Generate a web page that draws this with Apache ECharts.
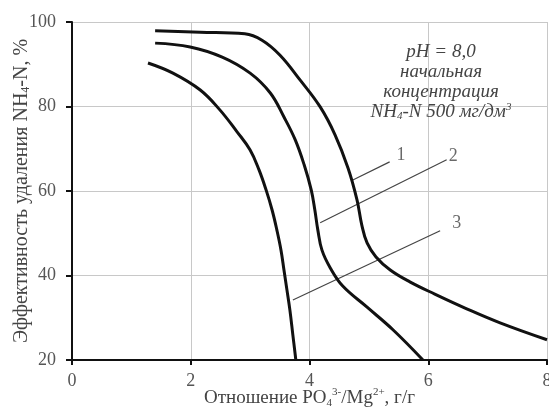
<!DOCTYPE html>
<html><head><meta charset="utf-8">
<script src="https://cdn.jsdelivr.net/npm/echarts@6/dist/echarts.min.js"></script>
<style>html,body{margin:0;padding:0;background:#fff}#c{width:549px;height:415px}</style>
</head><body><div id="c"></div>
<script>
// Curve 1 (outer)
const curve1X = [1.40, 2.16, 2.91, 3.20, 3.50, 3.84, 4.18, 4.43, 4.65, 4.80, 4.88, 4.97, 5.12, 5.36, 5.69, 6.11, 6.62, 7.21, 8.0];
const curve1Y = [97.9, 97.6, 97.2, 95.7, 92.2, 86.3, 79.9, 73.3, 65.4, 57.9, 52.0, 47.7, 44.4, 41.3, 38.5, 35.6, 32.3, 28.8, 24.8];
// Curve 2 (middle)
const curve2X = [1.40, 1.99, 2.53, 3.00, 3.34, 3.57, 3.76, 3.91, 4.03, 4.09, 4.14, 4.21, 4.35, 4.56, 4.97, 5.41, 5.91];
const curve2Y = [95.0, 94.1, 91.7, 87.9, 83.2, 77.5, 72.1, 66.2, 60.2, 55.5, 50.8, 46.0, 41.8, 37.5, 32.5, 27.1, 20.0];
// Curve 3 (inner)
const curve3X = [1.28, 1.70, 2.16, 2.49, 2.78, 3.00, 3.15, 3.27, 3.37, 3.45, 3.52, 3.57, 3.62, 3.67, 3.72, 3.77];
const curve3Y = [90.3, 87.9, 83.9, 79.2, 74.0, 69.7, 65.0, 60.2, 55.5, 50.8, 46.0, 41.3, 36.6, 31.8, 25.9, 20.0];
// Leader lines [x0, y0, x1, y1]
const leader1 = [4.73, 62.6, 5.35, 66.9];
const leader2 = [4.18, 52.5, 6.31, 67.4];
const leader3 = [3.72, 34.2, 6.20, 50.6];
const curveLabels = ['1', '2', '3'];
const labelX = [5.54, 6.42, 6.48];
const labelY = [68.5, 68.3, 52.3];
const xTicks = [0, 2, 4, 6, 8];
const yTicks = [20, 40, 60, 80, 100];

const serif = '"Liberation Serif", "DejaVu Serif", serif';
const zip = (xs, ys) => xs.map((x, i) => [x, ys[i]]);
const seg = a => [[a[0], a[1]], [a[2], a[3]]];

const chart = echarts.init(document.getElementById('c'));
const curveStyle = { color: '#111', width: 3 };
const leaderStyle = { color: '#444', width: 1.2 };

chart.setOption({
  animation: false,
  backgroundColor: '#fff',
  grid: { left: 72, right: 2, top: 22, bottom: 55, containLabel: false, outerBoundsMode: 'none' },
  xAxis: {
    type: 'value', min: 0, max: 8, interval: 2,
    axisLine: { show: true, onZero: false, lineStyle: { color: '#111', width: 2 } },
    axisTick: { show: true, length: 5, lineStyle: { color: '#111', width: 2 } },
    axisLabel: { fontFamily: serif, fontSize: 18, color: '#555', margin: 12,
      formatter: v => xTicks.includes(v) ? String(v) : '' },
    splitLine: { show: true, lineStyle: { color: '#c8c8c8', width: 1 } },
    name: '{a|Отношение PO}{sb|4}{sp|3-}{a|/Mg}{sp|2+}{a|, г/г}',
    nameLocation: 'middle', nameGap: 27, nameMoveOverlap: false,
    nameTextStyle: {
      rich: {
        a: { fontFamily: serif, fontSize: 19, color: '#444', lineHeight: 22 },
        sb: { fontFamily: serif, fontSize: 11, color: '#444', verticalAlign: 'bottom', lineHeight: 22 },
        sp: { fontFamily: serif, fontSize: 11, color: '#444', verticalAlign: 'top', lineHeight: 22 }
      }
    }
  },
  yAxis: {
    type: 'value', min: 20, max: 100, interval: 20,
    axisLine: { show: true, onZero: false, lineStyle: { color: '#111', width: 2 } },
    axisTick: { show: true, length: 6, lineStyle: { color: '#111', width: 2 } },
    axisLabel: { fontFamily: serif, fontSize: 18, color: '#555', margin: 16,
      formatter: v => yTicks.includes(v) ? String(v) : '' },
    splitLine: { show: true, lineStyle: { color: '#c8c8c8', width: 1 } },
    name: '{a|Эффективность удаления NH}{sb|4}{a|-N, %}',
    nameLocation: 'middle', nameGap: 40, nameRotate: 90, nameMoveOverlap: false,
    nameTextStyle: {
      rich: {
        a: { fontFamily: serif, fontSize: 20, color: '#444', lineHeight: 20 },
        sb: { fontFamily: serif, fontSize: 12, color: '#444', verticalAlign: 'bottom', lineHeight: 20 }
      }
    }
  },
  series: [
    { type: 'line', data: zip(curve1X, curve1Y), smooth: 0.4, showSymbol: false, lineStyle: curveStyle, z: 3 },
    { type: 'line', data: zip(curve2X, curve2Y), smooth: 0.4, showSymbol: false, lineStyle: curveStyle, z: 3 },
    { type: 'line', data: zip(curve3X, curve3Y), smooth: 0.4, showSymbol: false, lineStyle: curveStyle, z: 3 },
    { type: 'line', data: seg(leader1), showSymbol: false, lineStyle: leaderStyle, z: 2 },
    { type: 'line', data: seg(leader2), showSymbol: false, lineStyle: leaderStyle, z: 2 },
    { type: 'line', data: seg(leader3), showSymbol: false, lineStyle: leaderStyle, z: 2 },
    { type: 'scatter', symbolSize: 0, z: 4,
      data: curveLabels.map((n, i) => ({ name: n, value: [labelX[i], labelY[i]] })),
      label: { show: true, position: 'inside', formatter: p => p.name,
        fontFamily: serif, fontSize: 18, color: '#444' } }
  ],
  graphic: [{
    type: 'text', x: 441, y: 42, z: 10,
    style: {
      text: '{i|pH = 8,0}\n{i|начальная}\n{i|концентрация}\n{i|NH}{sb|4}{i|-N 500 мг/дм}{sp|3}',
      align: 'center', verticalAlign: 'top',
      rich: {
        i: { fontFamily: serif, fontStyle: 'italic', fontSize: 19, fill: '#444', lineHeight: 20, align: 'center' },
        sb: { fontFamily: serif, fontStyle: 'italic', fontSize: 11, fill: '#444', verticalAlign: 'bottom', lineHeight: 20 },
        sp: { fontFamily: serif, fontStyle: 'italic', fontSize: 11, fill: '#444', verticalAlign: 'top', lineHeight: 20 }
      }
    }
  }]
});
</script></body></html>
